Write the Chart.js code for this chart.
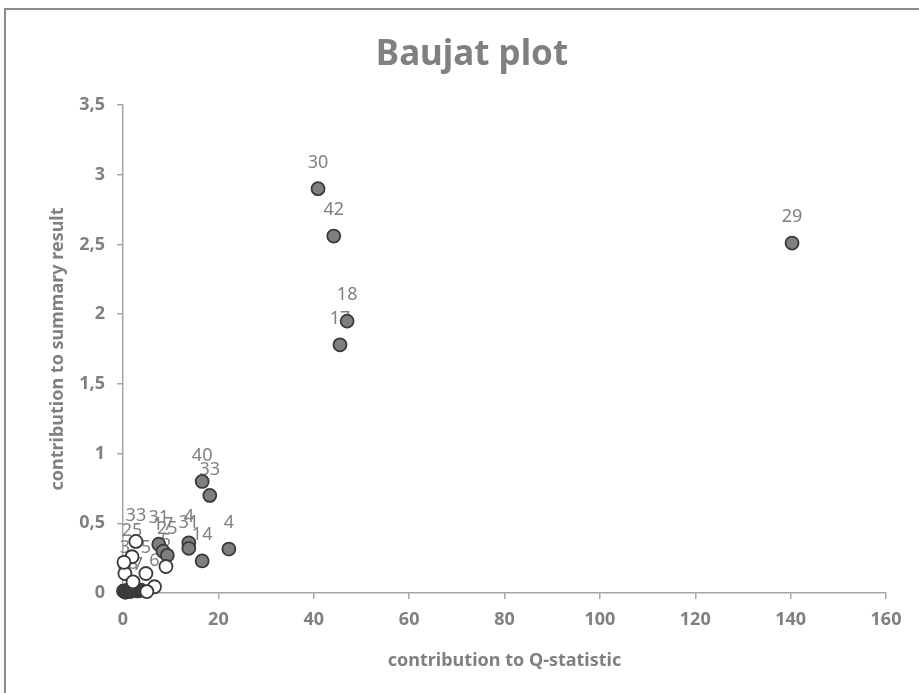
<!DOCTYPE html>
<html>
<head>
<meta charset="utf-8">
<script src="https://cdn.jsdelivr.net/npm/chart.js@4.4.1/dist/chart.umd.min.js"></script>
<style>
  html, body { margin: 0; padding: 0; background: #fff; }
  #wrap { position: relative; width: 919px; height: 693px; }
</style>
</head>
<body>
<div id="wrap"><canvas id="baujat" width="919" height="693"></canvas></div>
<script>
// studies with the largest influence (grey markers, labelled)
const influentialQ = [40.9, 44.2, 47.0, 45.5, 140.3, 16.6, 18.2, 22.2, 16.6, 13.8, 13.8, 7.5, 8.4, 9.3];
const influentialR = [2.90, 2.56, 1.95, 1.78, 2.51, 0.80, 0.70, 0.315, 0.23, 0.36, 0.32, 0.35, 0.30, 0.27];
const influentialIds = ['30', '42', '18', '17', '29', '40', '33', '4', '14', '4', '31', '31', '17', '25'];

// remaining studies (open markers)
const otherQ = [2.7, 9.0, 6.6, 4.8, 0.4, 2.1, 1.9, 5.0, 0.2];
const otherR = [0.37, 0.19, 0.045, 0.14, 0.14, 0.08, 0.26, 0.01, 0.22];
const otherIds = ['33', '5', '6', '5', '3', '', '25', '', ''];

// studies sitting on the origin (dark markers)
const nearZeroQ = [0.1, 1.0, 3.1, 0.5, 2.0, 2.6, 3.8, 1.5];
const nearZeroR = [0.015, 0.02, 0.015, 0.005, 0.025, 0.03, 0.02, 0.01];
const nearZeroIds = ['4', '28', '7', '', '', '', '', ''];

const xTicksMax = 160;
const yTicksMax = 3.5;

const GREY_TEXT = '#808080';
const FONT = "'Noto Sans', 'Open Sans', sans-serif";

function toPoints(xs, ys) {
  return xs.map((x, i) => ({ x: x, y: ys[i] }));
}

// frame + title drawn straight on the canvas
const framePlugin = {
  id: 'frame',
  beforeDraw(chart) {
    const ctx = chart.ctx;
    ctx.save();
    ctx.fillStyle = '#ffffff';
    ctx.fillRect(0, 0, chart.width, chart.height);
    ctx.strokeStyle = '#8c8c8c';
    ctx.lineWidth = 2;
    ctx.strokeRect(5, 9, chart.width + 20, chart.height + 20);
    ctx.fillStyle = GREY_TEXT;
    ctx.font = "bold 35px " + FONT;
    ctx.textAlign = 'center';
    ctx.textBaseline = 'middle';
    ctx.fillText('Baujat plot', 472, 55);
    ctx.restore();
  }
};

// study ids, drawn under the markers
const idLabels = {
  id: 'idLabels',
  beforeDatasetsDraw(chart) {
    const ctx = chart.ctx;
    const xs = chart.scales.x, ys = chart.scales.y;
    ctx.save();
    ctx.fillStyle = GREY_TEXT;
    ctx.font = "18px " + FONT;
    ctx.textAlign = 'center';
    ctx.textBaseline = 'middle';
    chart.data.datasets.forEach(ds => {
      ds.data.forEach((p, i) => {
        const txt = ds.ids[i];
        if (!txt) return;
        ctx.fillText(txt, xs.getPixelForValue(p.x), ys.getPixelForValue(p.y) - 26);
      });
    });
    ctx.restore();
  }
};

const markerBase = {
  pointRadius: 6.5,
  pointHoverRadius: 6.5,
  borderWidth: 1.8,
  borderColor: '#3a3a3a',
  showLine: false,
  clip: false
};

new Chart(document.getElementById('baujat'), {
  type: 'scatter',
  data: {
    datasets: [
      Object.assign({}, markerBase, {
        label: 'other',
        data: toPoints(otherQ, otherR),
        ids: otherIds,
        backgroundColor: '#ffffff'
      }),
      Object.assign({}, markerBase, {
        label: 'near zero',
        data: toPoints(nearZeroQ, nearZeroR),
        ids: nearZeroIds,
        backgroundColor: '#3c3c3c'
      }),
      Object.assign({}, markerBase, {
        label: 'influential',
        data: toPoints(influentialQ, influentialR),
        ids: influentialIds,
        backgroundColor: '#7f7f7f'
      })
    ]
  },
  options: {
    responsive: false,
    animation: false,
    layout: { padding: { top: 105, left: 0, right: 33, bottom: 10 } },
    plugins: {
      legend: { display: false },
      title: { display: false },
      tooltip: { enabled: false }
    },
    scales: {
      x: {
        type: 'linear',
        min: 0,
        max: xTicksMax,
        afterFit(scale) { scale.height = 90; },
        border: { color: '#a6a6a6', width: 1.5 },
        grid: { drawOnChartArea: false, tickLength: 6, color: '#a6a6a6', lineWidth: 1.5 },
        ticks: {
          stepSize: 20,
          padding: 10,
          color: GREY_TEXT,
          font: { family: FONT, size: 18, weight: 'bold' }
        },
        title: {
          display: true,
          text: 'contribution to Q-statistic',
          color: GREY_TEXT,
          font: { family: FONT, size: 18, weight: 'bold' },
          padding: { top: 0, bottom: 11 }
        }
      },
      y: {
        type: 'linear',
        min: 0,
        max: yTicksMax,
        afterFit(scale) { scale.width = 123; },
        border: { color: '#a6a6a6', width: 1.5 },
        grid: { drawOnChartArea: false, tickLength: 6, color: '#a6a6a6', lineWidth: 1.5 },
        ticks: {
          stepSize: 0.5,
          padding: 12,
          color: GREY_TEXT,
          font: { family: FONT, size: 18, weight: 'bold' },
          callback: v => String(v).replace('.', ',')
        },
        title: {
          display: true,
          text: 'contribution to summary result',
          color: GREY_TEXT,
          font: { family: FONT, size: 18, weight: 'bold' },
          padding: { top: 47, bottom: 0 }
        }
      }
    }
  },
  plugins: [framePlugin, idLabels]
});
</script>
</body>
</html>
